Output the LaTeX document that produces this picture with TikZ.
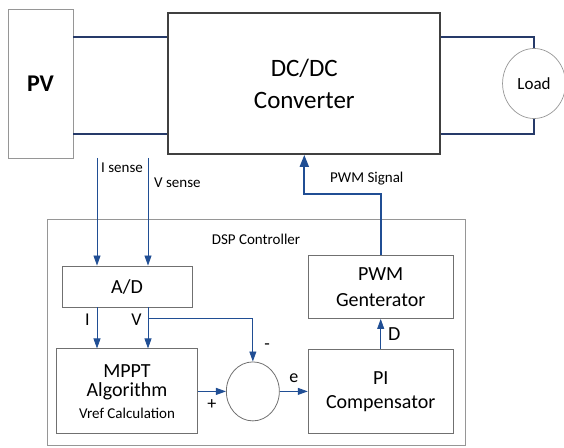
\documentclass[tikz,border=0pt]{standalone}
\usepackage{fontspec}
\setmainfont{Carlito}
\usepackage{tikz}
\usetikzlibrary{
    positioning,
    arrows.meta,
    shapes.geometric
}
\definecolor{WireBlue}{RGB}{38,58,105}
\definecolor{SigBlue}{RGB}{32,78,148}
\definecolor{BoxGray}{RGB}{112,112,112}
\definecolor{FrameGray}{RGB}{150,150,150}
\definecolor{DarkSlate}{RGB}{64,64,64}

\begin{document}
\begin{tikzpicture}[x=1pt, y=1pt,
    block/.style={rectangle, draw=BoxGray, line width=0.9pt, align=center, inner sep=2pt, font=\fontsize{20}{24}\selectfont},
    wire/.style={line width=1.5pt, color=WireBlue},
    sig/.style={line width=0.8pt, color=SigBlue, -{Triangle[length=10pt, width=7pt]}},
    thicksig/.style={line width=2pt, color=SigBlue, -{Triangle[length=12pt, width=9pt]}},
    m/.style={font=\fontsize{15}{18}\selectfont, inner sep=1pt, text=black},
    op/.style={font=\fontsize{18}{20}\selectfont, inner sep=2pt, text=black},
]
\useasboundingbox (0,0) rectangle (564,447);

\node[rectangle, draw=FrameGray, line width=0.8pt, minimum width=65pt, minimum height=149pt, font=\fontsize{24}{28}\selectfont\bfseries] (pv) at (40.5,363.5) {PV};

\node[rectangle, draw=DarkSlate, line width=1.8pt, minimum width=272pt, minimum height=141pt, align=center, font=\fontsize{25}{32}\selectfont, right=94pt of pv] (conv) {DC/DC\\Converter};

\node[ellipse, draw=FrameGray, line width=0.7pt, minimum width=63pt, minimum height=70pt, inner sep=0pt, font=\fontsize{17}{20}\selectfont, right=61pt of conv] (load) {Load};

\node[rectangle, draw=FrameGray, line width=0.7pt, minimum width=418pt, minimum height=226pt] (dsp) at (256,115) {};
\node[m, below=14pt of dsp.north] (dsplabel) {DSP Controller};

\node[block, minimum width=130pt, minimum height=41pt] (ad) at (127,160.5) {A/D};

\node[block, minimum width=141pt, minimum height=85pt, font=\fontsize{20}{19}\selectfont, below=41pt of ad] (mppt) {%
  MPPT\\
  Algorithm\\[3pt]
  {\fontsize{15}{18}\selectfont Vref Calculation}};

\node[ellipse, draw=BoxGray, line width=0.8pt, minimum width=53pt, minimum height=59pt, inner sep=0pt, right=28pt of mppt] (sum) {};

\node[block, minimum width=145pt, minimum height=84pt, right=28pt of sum] (pi) {PI\\Compensator};

\node[block, minimum width=145pt, minimum height=63pt, font=\fontsize{20}{26}\selectfont, above=30pt of pi] (pwm) {PWM\\Genterator};

\coordinate (pvtop) at ([yshift=46.5pt]pv.east);
\coordinate (pvbot) at ([yshift=-50.5pt]pv.east);
\coordinate (isrc) at (97,289);
\coordinate (vsrc) at (148,289);
\coordinate (vtap) at (148,129);

\node[m, anchor=west] (isense) at (100,279) {I sense};
\node[m, anchor=west] (vsense) at (153,264) {V sense};
\node[m, anchor=west] (pwmlabel) at (329,268) {PWM Signal};

% connections
\draw[wire] (pvtop) -- (pvtop -| conv.west);
\draw[wire] (pvbot) -- (pvbot -| conv.west);
\draw[wire] (pvtop -| conv.east) -| (load.north);
\draw[wire] (pvbot -| conv.east) -| (load.south);

\draw[sig] (isrc) -- (isrc |- ad.north);
\draw[sig] (vsrc) -- (vsrc |- ad.north);
\draw[sig] (isrc |- ad.south) -- node[op, left=5pt, pos=0.3] (ilabel) {I} (isrc |- mppt.north);
\draw[sig] (vsrc |- ad.south) -- node[op, left=4pt, pos=0.3] (vlabel) {V} (vsrc |- mppt.north);
\draw[sig] (vtap) -| node[op, right=9pt, pos=0.83] (minus) {-} (sum.north);
\draw[sig] (mppt.east) -- node[op, below=6pt] (plus) {+} (sum.west);
\draw[sig] (sum.east) -- node[op, above=6pt] (err) {e} (pi.west);
\draw[sig] (pi.north) -- node[op, right=5pt, font=\fontsize{20}{22}\selectfont] (duty) {D} (pwm.south);
\draw[thicksig] (pwm.north) -- ++(0,61) -| (conv.south);
\end{tikzpicture}
\end{document}
